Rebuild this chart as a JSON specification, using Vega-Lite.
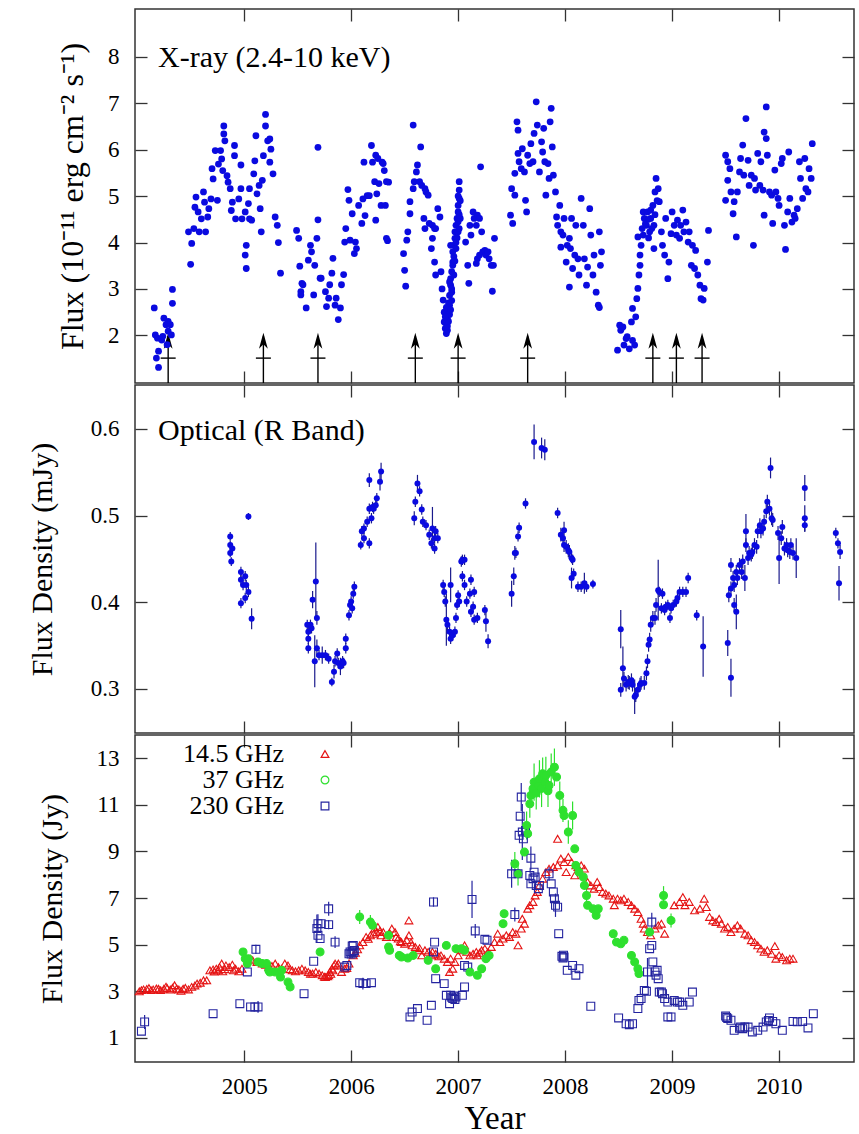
{
"$schema": "https://vega.github.io/schema/vega-lite/v6.json",
"background": "white",
"padding": {"left": 26, "top": 7, "right": 6, "bottom": 0},
"bounds": "flush",
"spacing": 2,
"config": {
 "view": {"stroke": "#333", "strokeWidth": 1.5},
 "axis": {"domain": false, "grid": false, "tickSize": -12, "tickColor": "#333", "tickWidth": 1.3, "labelFont": "Liberation Serif", "labelFontSize": 23, "labelColor": "black", "labelPadding": 28, "titleFont": "Liberation Serif", "titleFontSize": 30, "titleColor": "black", "titleFontWeight": "normal"}
},
"resolve": {
 "scale": {"shape": "independent", "stroke": "independent"},
 "legend": {"shape": "independent", "stroke": "independent"}
},
"datasets": {
"arrows": [{"t":2004.29},{"t":2005.18},{"t":2005.69},{"t":2006.6},{"t":2007.0},{"t":2007.65},{"t":2008.82},{"t":2009.04},{"t":2009.28}],
"xray": [
{"t":2004.16,"f":2.59},{"t":2004.17,"f":2.01},{"t":2004.19,"f":1.94},{"t":2004.2,"f":1.66},{"t":2004.18,"f":1.51},{"t":2004.2,"f":1.31},{"t":2004.23,"f":1.9},{"t":2004.24,"f":1.98},{"t":2004.25,"f":2.37},{"t":2004.27,"f":2.23},{"t":2004.28,"f":1.8},{"t":2004.29,"f":2.09},{"t":2004.29,"f":2.3},{"t":2004.31,"f":2.23},{"t":2004.32,"f":2.01},{"t":2004.33,"f":2.69},{"t":2004.33,"f":2.99},
{"t":2004.5,"f":3.53},{"t":2004.48,"f":4.23},{"t":2004.51,"f":3.98},{"t":2004.53,"f":4.3},{"t":2004.55,"f":4.98},{"t":2004.54,"f":4.76},{"t":2004.57,"f":4.66},{"t":2004.58,"f":4.23},{"t":2004.6,"f":4.51},{"t":2004.62,"f":5.09},{"t":2004.63,"f":4.87},{"t":2004.64,"f":4.23},{"t":2004.66,"f":4.55},{"t":2004.67,"f":4.73},{"t":2004.69,"f":4.94},{"t":2004.7,"f":5.59},{"t":2004.71,"f":5.37},{"t":2004.73,"f":5.98},{"t":2004.75,"f":4.91},{"t":2004.76,"f":5.69},{"t":2004.78,"f":5.98},{"t":2004.79,"f":5.8},{"t":2004.8,"f":5.55},{"t":2004.81,"f":6.51},{"t":2004.81,"f":6.34},{"t":2004.82,"f":6.19},{"t":2004.84,"f":5.44},{"t":2004.85,"f":5.3},{"t":2004.87,"f":5.16},{"t":2004.88,"f":4.69},{"t":2004.89,"f":4.87},{"t":2004.91,"f":5.87},{"t":2004.91,"f":6.09},{"t":2004.92,"f":4.51},{"t":2004.95,"f":4.94},{"t":2004.97,"f":5.16},{"t":2004.97,"f":5.67},{"t":2004.98,"f":4.51},
{"t":2005.01,"f":4.66},{"t":2005.01,"f":3.73},{"t":2005.02,"f":3.94},{"t":2005.02,"f":3.44},{"t":2005.04,"f":4.84},{"t":2005.05,"f":4.51},{"t":2005.05,"f":5.16},{"t":2005.07,"f":4.48},{"t":2005.09,"f":5.48},{"t":2005.1,"f":5.76},{"t":2005.11,"f":6.3},{"t":2005.12,"f":5.05},{"t":2005.14,"f":5.23},{"t":2005.15,"f":4.73},{"t":2005.16,"f":4.23},{"t":2005.17,"f":5.34},{"t":2005.18,"f":5.87},{"t":2005.2,"f":6.76},{"t":2005.2,"f":6.51},{"t":2005.22,"f":6.19},{"t":2005.24,"f":6.23},{"t":2005.25,"f":6.01},{"t":2005.24,"f":5.73},{"t":2005.27,"f":5.48},{"t":2005.29,"f":4.55},{"t":2005.31,"f":4.37},{"t":2005.32,"f":4.0},{"t":2005.34,"f":3.34},
{"t":2005.49,"f":4.26},{"t":2005.51,"f":4.09},{"t":2005.52,"f":3.49},{"t":2005.53,"f":2.94},{"t":2005.54,"f":3.12},{"t":2005.55,"f":3.09},{"t":2005.53,"f":2.87},{"t":2005.58,"f":2.59},{"t":2005.6,"f":3.62},{"t":2005.62,"f":3.94},{"t":2005.63,"f":3.8},{"t":2005.65,"f":2.87},{"t":2005.66,"f":3.51},{"t":2005.68,"f":4.09},{"t":2005.69,"f":4.49},{"t":2005.69,"f":6.05},{"t":2005.71,"f":3.23},{"t":2005.72,"f":3.23},{"t":2005.76,"f":2.94},{"t":2005.77,"f":2.62},{"t":2005.79,"f":2.8},{"t":2005.8,"f":3.09},{"t":2005.82,"f":3.34},{"t":2005.83,"f":3.66},{"t":2005.85,"f":2.65},{"t":2005.86,"f":2.8},{"t":2005.88,"f":2.34},{"t":2005.9,"f":2.59},{"t":2005.91,"f":3.09},{"t":2005.93,"f":3.31},{"t":2005.94,"f":4.01},{"t":2005.95,"f":4.3},{"t":2005.97,"f":5.14},{"t":2005.98,"f":4.91},{"t":2005.99,"f":4.05},
{"t":2006.01,"f":4.62},{"t":2006.03,"f":3.76},{"t":2006.04,"f":4.01},{"t":2006.05,"f":3.87},{"t":2006.07,"f":4.8},{"t":2006.1,"f":4.41},{"t":2006.11,"f":4.94},{"t":2006.12,"f":5.73},{"t":2006.15,"f":5.01},{"t":2006.19,"f":6.09},{"t":2006.13,"f":4.58},{"t":2006.17,"f":5.01},{"t":2006.2,"f":5.73},{"t":2006.23,"f":5.88},{"t":2006.24,"f":5.05},{"t":2006.26,"f":5.27},{"t":2006.28,"f":4.8},{"t":2006.29,"f":5.73},{"t":2006.31,"f":5.55},{"t":2006.32,"f":4.8},{"t":2006.34,"f":4.04},{"t":2006.35,"f":5.3},{"t":2006.22,"f":5.31},{"t":2006.25,"f":5.81},{"t":2006.3,"f":5.7},{"t":2006.33,"f":5.31},{"t":2006.23,"f":4.48},{"t":2006.33,"f":4.09},
{"t":2006.49,"f":3.76},{"t":2006.5,"f":3.4},{"t":2006.51,"f":3.06},{"t":2006.52,"f":4.05},{"t":2006.53,"f":4.23},{"t":2006.55,"f":4.62},{"t":2006.55,"f":4.88},{"t":2006.58,"f":5.16},{"t":2006.58,"f":6.53},{"t":2006.59,"f":5.31},{"t":2006.61,"f":5.52},{"t":2006.62,"f":5.67},{"t":2006.64,"f":5.31},{"t":2006.65,"f":6.06},{"t":2006.66,"f":5.23},{"t":2006.69,"f":5.16},{"t":2006.7,"f":5.09},{"t":2006.72,"f":5.02},{"t":2006.68,"f":4.52},{"t":2006.69,"f":4.3},{"t":2006.73,"f":4.41},{"t":2006.76,"f":4.37},{"t":2006.76,"f":4.09},{"t":2006.78,"f":4.3},{"t":2006.79,"f":4.3},{"t":2006.81,"f":4.73},{"t":2006.83,"f":4.55},{"t":2006.75,"f":3.87},{"t":2006.78,"f":3.58},{"t":2006.79,"f":3.3},{"t":2006.84,"f":3.37},
{"t":2006.85,"f":3.0},{"t":2006.86,"f":2.76},{"t":2006.87,"f":2.5},{"t":2006.87,"f":2.29},{"t":2006.88,"f":2.15},{"t":2006.89,"f":2.04},{"t":2006.9,"f":2.11},{"t":2006.9,"f":2.36},{"t":2006.91,"f":2.5},{"t":2006.92,"f":2.65},{"t":2006.92,"f":2.86},{"t":2006.93,"f":3.08},{"t":2006.93,"f":3.22},{"t":2006.94,"f":3.37},{"t":2006.95,"f":3.58},{"t":2006.95,"f":3.8},{"t":2006.96,"f":3.94},{"t":2006.97,"f":4.09},{"t":2006.97,"f":4.23},{"t":2006.98,"f":4.37},{"t":2006.99,"f":4.52},{"t":2007.0,"f":4.66},{"t":2007.0,"f":4.8},{"t":2007.01,"f":4.95},{"t":2007.01,"f":5.13},{"t":2007.01,"f":5.31},{"t":2006.93,"f":3.94},{"t":2006.95,"f":3.51},{"t":2006.92,"f":3.15},{"t":2006.98,"f":3.87},{"t":2007.0,"f":4.23},{"t":2007.02,"f":4.52},{"t":2006.94,"f":2.93},{"t":2006.9,"f":2.58},
{"t":2006.89,"f":2.25},{"t":2006.9,"f":2.2},{"t":2006.91,"f":2.3},{"t":2006.92,"f":2.45},{"t":2006.94,"f":3.0},{"t":2006.96,"f":3.7},{"t":2006.97,"f":3.6},{"t":2006.99,"f":4.1},{"t":2007.0,"f":4.45},{"t":2007.01,"f":4.6},{"t":2007.0,"f":5.0},{"t":2007.02,"f":4.9},{"t":2006.96,"f":3.3},{"t":2006.94,"f":2.75},{"t":2006.91,"f":2.7},{"t":2006.88,"f":2.4},{"t":2006.89,"f":2.6},{"t":2006.93,"f":2.55},{"t":2006.98,"f":4.0},{"t":2007.01,"f":4.3},
{"t":2007.07,"f":4.01},{"t":2007.09,"f":3.51},{"t":2007.1,"f":3.12},{"t":2007.11,"f":4.37},{"t":2007.12,"f":4.16},{"t":2007.14,"f":4.66},{"t":2007.15,"f":4.52},{"t":2007.17,"f":4.37},{"t":2007.18,"f":4.59},{"t":2007.2,"f":4.52},{"t":2007.21,"f":5.63},{"t":2007.22,"f":4.23},{"t":2007.18,"f":3.65},{"t":2007.17,"f":3.55},{"t":2007.2,"f":3.73},{"t":2007.23,"f":3.8},{"t":2007.25,"f":3.83},{"t":2007.26,"f":3.73},{"t":2007.28,"f":3.8},{"t":2007.29,"f":3.65},{"t":2007.31,"f":3.51},{"t":2007.34,"f":4.09},{"t":2007.33,"f":3.51},{"t":2007.32,"f":2.95},
{"t":2007.49,"f":4.59},{"t":2007.51,"f":4.41},{"t":2007.5,"f":5.16},{"t":2007.53,"f":5.02},{"t":2007.53,"f":5.49},{"t":2007.55,"f":6.6},{"t":2007.56,"f":6.42},{"t":2007.56,"f":5.92},{"t":2007.57,"f":5.74},{"t":2007.59,"f":5.59},{"t":2007.6,"f":6.02},{"t":2007.62,"f":5.52},{"t":2007.63,"f":4.91},{"t":2007.64,"f":4.66},{"t":2007.65,"f":5.88},{"t":2007.67,"f":5.7},{"t":2007.68,"f":6.13},{"t":2007.7,"f":5.74},{"t":2007.71,"f":6.35},{"t":2007.73,"f":7.03},{"t":2007.74,"f":6.53},{"t":2007.76,"f":5.52},{"t":2007.78,"f":6.17},{"t":2007.79,"f":5.95},{"t":2007.8,"f":6.46},{"t":2007.81,"f":5.74},{"t":2007.82,"f":5.02},{"t":2007.84,"f":5.7},{"t":2007.85,"f":5.38},{"t":2007.86,"f":6.6},{"t":2007.87,"f":6.89},{"t":2007.88,"f":6.06},{"t":2007.89,"f":5.45},{"t":2007.91,"f":5.09},{"t":2007.92,"f":4.55},{"t":2007.93,"f":4.37},{"t":2007.95,"f":4.8},{"t":2007.96,"f":4.23},{"t":2007.96,"f":3.9},{"t":2007.98,"f":4.16},{"t":2007.99,"f":4.52},
{"t":2008.01,"f":3.58},{"t":2008.02,"f":3.94},{"t":2008.04,"f":4.09},{"t":2008.05,"f":3.87},{"t":2008.06,"f":4.52},{"t":2008.07,"f":3.44},{"t":2008.09,"f":3.73},{"t":2008.1,"f":4.37},{"t":2008.12,"f":3.65},{"t":2008.13,"f":3.3},{"t":2008.15,"f":4.95},{"t":2008.17,"f":4.37},{"t":2008.18,"f":3.65},{"t":2008.2,"f":3.08},{"t":2008.21,"f":3.47},{"t":2008.23,"f":4.73},{"t":2008.24,"f":4.16},{"t":2008.26,"f":3.3},{"t":2008.27,"f":3.73},{"t":2008.29,"f":2.93},{"t":2008.31,"f":2.65},{"t":2008.32,"f":4.23},{"t":2008.33,"f":3.51},{"t":2008.34,"f":3.8},{"t":2008.04,"f":3.04},{"t":2008.32,"f":2.6},
{"t":2008.49,"f":1.68},{"t":2008.51,"f":2.22},{"t":2008.52,"f":2.11},{"t":2008.54,"f":2.18},{"t":2008.55,"f":1.79},{"t":2008.57,"f":1.93},{"t":2008.58,"f":1.97},{"t":2008.6,"f":1.71},{"t":2008.62,"f":2.29},{"t":2008.63,"f":2.58},{"t":2008.63,"f":1.89},{"t":2008.65,"f":1.79},{"t":2008.66,"f":2.4},{"t":2008.67,"f":2.79},{"t":2008.68,"f":3.01},{"t":2008.69,"f":3.3},{"t":2008.7,"f":3.51},{"t":2008.7,"f":3.73},{"t":2008.71,"f":3.94},{"t":2008.68,"f":4.12},{"t":2008.73,"f":4.16},{"t":2008.73,"f":4.66},{"t":2008.74,"f":4.52},{"t":2008.76,"f":4.37},{"t":2008.77,"f":4.66},{"t":2008.79,"f":4.23},{"t":2008.8,"f":4.52},{"t":2008.82,"f":4.8},{"t":2008.83,"f":4.37},{"t":2008.84,"f":5.09},{"t":2008.85,"f":5.38},{"t":2008.87,"f":5.16},{"t":2008.88,"f":4.88},{"t":2008.83,"f":3.87},{"t":2008.9,"f":4.23},{"t":2008.91,"f":3.94},{"t":2008.93,"f":3.73},{"t":2008.94,"f":4.52},{"t":2008.96,"f":3.22},{"t":2008.97,"f":3.58},{"t":2008.99,"f":4.19},
{"t":2008.75,"f":4.4},{"t":2008.78,"f":4.5},{"t":2008.81,"f":4.3},{"t":2008.8,"f":4.7},{"t":2008.84,"f":4.6},{"t":2008.86,"f":4.9},{"t":2008.72,"f":4.3},{"t":2008.78,"f":4.1},
{"t":2009.0,"f":4.66},{"t":2009.02,"f":4.37},{"t":2009.04,"f":4.16},{"t":2009.05,"f":4.48},{"t":2009.07,"f":4.09},{"t":2009.08,"f":4.37},{"t":2009.1,"f":4.7},{"t":2009.11,"f":4.23},{"t":2009.13,"f":4.44},{"t":2009.15,"f":4.01},{"t":2009.16,"f":4.23},{"t":2009.18,"f":3.51},{"t":2009.19,"f":3.94},{"t":2009.21,"f":3.44},{"t":2009.22,"f":3.83},{"t":2009.24,"f":3.3},{"t":2009.26,"f":3.08},{"t":2009.27,"f":2.79},{"t":2009.29,"f":2.76},{"t":2009.3,"f":3.01},{"t":2009.33,"f":3.58},{"t":2009.34,"f":4.26},
{"t":2009.5,"f":5.88},{"t":2009.5,"f":4.91},{"t":2009.52,"f":5.74},{"t":2009.52,"f":5.34},{"t":2009.54,"f":5.59},{"t":2009.55,"f":5.09},{"t":2009.57,"f":4.62},{"t":2009.58,"f":4.88},{"t":2009.6,"f":4.12},{"t":2009.61,"f":5.09},{"t":2009.63,"f":5.52},{"t":2009.64,"f":5.81},{"t":2009.66,"f":6.1},{"t":2009.67,"f":5.45},{"t":2009.69,"f":6.67},{"t":2009.71,"f":5.77},{"t":2009.72,"f":5.23},{"t":2009.74,"f":5.45},{"t":2009.76,"f":3.94},{"t":2009.77,"f":5.38},{"t":2009.78,"f":5.13},{"t":2009.8,"f":5.92},{"t":2009.82,"f":5.23},{"t":2009.83,"f":5.74},{"t":2009.85,"f":5.13},{"t":2009.86,"f":4.59},{"t":2009.86,"f":6.38},{"t":2009.88,"f":6.24},{"t":2009.88,"f":6.92},{"t":2009.89,"f":5.88},{"t":2009.91,"f":5.09},{"t":2009.93,"f":5.02},{"t":2009.94,"f":4.41},{"t":2009.96,"f":5.56},{"t":2009.97,"f":5.09},{"t":2009.99,"f":4.95},
{"t":2010.0,"f":4.8},{"t":2010.02,"f":5.7},{"t":2010.03,"f":5.81},{"t":2010.05,"f":4.37},{"t":2010.06,"f":3.85},{"t":2010.08,"f":4.66},{"t":2010.09,"f":5.95},{"t":2010.1,"f":4.95},{"t":2010.12,"f":4.44},{"t":2010.14,"f":4.59},{"t":2010.15,"f":4.52},{"t":2010.17,"f":4.73},{"t":2010.19,"f":5.74},{"t":2010.2,"f":5.38},{"t":2010.22,"f":4.95},{"t":2010.24,"f":5.81},{"t":2010.25,"f":5.16},{"t":2010.27,"f":5.09},{"t":2010.28,"f":5.59},{"t":2010.3,"f":5.38},{"t":2010.31,"f":6.13}
],
"opt": [
{"t":2004.87,"f":0.476,"e":0.005},{"t":2004.87,"f":0.466,"e":0.005},{"t":2004.87,"f":0.457,"e":0.005},{"t":2004.88,"f":0.447,"e":0.005},{"t":2004.89,"f":0.462,"e":0.005},{"t":2004.97,"f":0.435,"e":0.006},{"t":2004.97,"f":0.426,"e":0.006},{"t":2004.99,"f":0.42,"e":0.006},{"t":2005.01,"f":0.43,"e":0.006},{"t":2005.02,"f":0.42,"e":0.006},{"t":2005.04,"f":0.412,"e":0.006},{"t":2004.97,"f":0.399,"e":0.006},{"t":2005.01,"f":0.405,"e":0.006},{"t":2005.04,"f":0.499,"e":0.004},{"t":2005.07,"f":0.381,"e":0.012},
{"t":2005.59,"f":0.374,"e":0.006},{"t":2005.6,"f":0.358,"e":0.006},{"t":2005.6,"f":0.366,"e":0.006},{"t":2005.6,"f":0.347,"e":0.006},{"t":2005.62,"f":0.374,"e":0.006},{"t":2005.63,"f":0.37,"e":0.006},{"t":2005.64,"f":0.403,"e":0.01},{"t":2005.66,"f":0.332,"e":0.03},{"t":2005.67,"f":0.424,"e":0.045},{"t":2005.68,"f":0.347,"e":0.01},{"t":2005.68,"f":0.382,"e":0.008},{"t":2005.7,"f":0.339,"e":0.006},{"t":2005.73,"f":0.339,"e":0.01},{"t":2005.76,"f":0.339,"e":0.006},{"t":2005.79,"f":0.335,"e":0.006},{"t":2005.82,"f":0.308,"e":0.005},{"t":2005.84,"f":0.32,"e":0.008},{"t":2005.85,"f":0.332,"e":0.006},{"t":2005.87,"f":0.341,"e":0.006},{"t":2005.88,"f":0.33,"e":0.006},{"t":2005.9,"f":0.326,"e":0.01},{"t":2005.92,"f":0.332,"e":0.006},{"t":2005.93,"f":0.33,"e":0.006},{"t":2005.95,"f":0.347,"e":0.006},{"t":2005.95,"f":0.358,"e":0.006},{"t":2005.98,"f":0.385,"e":0.006},{"t":2005.99,"f":0.397,"e":0.006},{"t":2006.0,"f":0.401,"e":0.006},{"t":2006.01,"f":0.393,"e":0.006},{"t":2006.02,"f":0.41,"e":0.006},{"t":2006.03,"f":0.418,"e":0.006},
{"t":2006.09,"f":0.466,"e":0.005},{"t":2006.1,"f":0.482,"e":0.006},{"t":2006.12,"f":0.485,"e":0.006},{"t":2006.12,"f":0.474,"e":0.006},{"t":2006.15,"f":0.493,"e":0.006},{"t":2006.17,"f":0.468,"e":0.006},{"t":2006.17,"f":0.508,"e":0.006},{"t":2006.17,"f":0.541,"e":0.008},{"t":2006.19,"f":0.497,"e":0.006},{"t":2006.2,"f":0.51,"e":0.006},{"t":2006.21,"f":0.508,"e":0.006},{"t":2006.23,"f":0.512,"e":0.006},{"t":2006.24,"f":0.52,"e":0.006},{"t":2006.27,"f":0.539,"e":0.01},{"t":2006.28,"f":0.551,"e":0.01},
{"t":2006.59,"f":0.497,"e":0.008},{"t":2006.6,"f":0.516,"e":0.006},{"t":2006.62,"f":0.537,"e":0.01},{"t":2006.64,"f":0.528,"e":0.006},{"t":2006.66,"f":0.507,"e":0.006},{"t":2006.67,"f":0.493,"e":0.006},{"t":2006.7,"f":0.489,"e":0.006},{"t":2006.73,"f":0.478,"e":0.006},{"t":2006.75,"f":0.468,"e":0.006},{"t":2006.76,"f":0.485,"e":0.025},{"t":2006.78,"f":0.474,"e":0.006},{"t":2006.79,"f":0.482,"e":0.006},{"t":2006.81,"f":0.474,"e":0.006},{"t":2006.78,"f":0.462,"e":0.006},
{"t":2006.86,"f":0.42,"e":0.006},{"t":2006.87,"f":0.412,"e":0.006},{"t":2006.88,"f":0.401,"e":0.006},{"t":2006.89,"f":0.38,"e":0.03},{"t":2006.9,"f":0.374,"e":0.006},{"t":2006.92,"f":0.366,"e":0.006},{"t":2006.93,"f":0.358,"e":0.006},{"t":2006.95,"f":0.362,"e":0.006},{"t":2006.97,"f":0.366,"e":0.006},{"t":2006.98,"f":0.382,"e":0.006},{"t":2006.93,"f":0.42,"e":0.02},{"t":2007.0,"f":0.408,"e":0.006},{"t":2007.01,"f":0.401,"e":0.006},{"t":2007.03,"f":0.447,"e":0.006},{"t":2007.04,"f":0.449,"e":0.006},{"t":2007.06,"f":0.449,"e":0.006},{"t":2007.04,"f":0.43,"e":0.006},{"t":2007.06,"f":0.42,"e":0.006},{"t":2007.11,"f":0.41,"e":0.006},{"t":2007.12,"f":0.426,"e":0.006},{"t":2007.14,"f":0.395,"e":0.006},{"t":2007.15,"f":0.412,"e":0.006},{"t":2007.12,"f":0.389,"e":0.006},{"t":2007.15,"f":0.38,"e":0.006},{"t":2007.18,"f":0.382,"e":0.006},{"t":2007.25,"f":0.391,"e":0.006},{"t":2007.26,"f":0.378,"e":0.012},{"t":2007.28,"f":0.355,"e":0.008},{"t":2007.08,"f":0.401,"e":0.006},{"t":2006.99,"f":0.397,"e":0.006},
{"t":2007.5,"f":0.41,"e":0.015},{"t":2007.52,"f":0.43,"e":0.01},{"t":2007.53,"f":0.457,"e":0.008},{"t":2007.54,"f":0.457,"e":0.006},{"t":2007.56,"f":0.476,"e":0.006},{"t":2007.57,"f":0.486,"e":0.006},{"t":2007.63,"f":0.514,"e":0.006},{"t":2007.71,"f":0.585,"e":0.02},{"t":2007.78,"f":0.578,"e":0.012},{"t":2007.81,"f":0.576,"e":0.012},
{"t":2007.93,"f":0.503,"e":0.006},{"t":2007.96,"f":0.478,"e":0.008},{"t":2007.98,"f":0.474,"e":0.01},{"t":2007.99,"f":0.483,"e":0.01},{"t":2007.99,"f":0.466,"e":0.008},{"t":2008.01,"f":0.464,"e":0.008},{"t":2008.03,"f":0.46,"e":0.008},{"t":2008.04,"f":0.458,"e":0.008},{"t":2008.06,"f":0.451,"e":0.006},{"t":2008.07,"f":0.449,"e":0.006},{"t":2008.06,"f":0.428,"e":0.012},{"t":2008.08,"f":0.433,"e":0.006},{"t":2008.12,"f":0.418,"e":0.006},{"t":2008.15,"f":0.418,"e":0.006},{"t":2008.18,"f":0.422,"e":0.012},{"t":2008.2,"f":0.418,"e":0.006},{"t":2008.26,"f":0.421,"e":0.005},
{"t":2008.52,"f":0.369,"e":0.022},{"t":2008.52,"f":0.299,"e":0.008},{"t":2008.54,"f":0.324,"e":0.025},{"t":2008.55,"f":0.312,"e":0.008},{"t":2008.57,"f":0.305,"e":0.008},{"t":2008.59,"f":0.308,"e":0.008},{"t":2008.6,"f":0.307,"e":0.008},{"t":2008.62,"f":0.31,"e":0.008},{"t":2008.63,"f":0.305,"e":0.008},{"t":2008.65,"f":0.291,"e":0.02},{"t":2008.66,"f":0.293,"e":0.008},{"t":2008.68,"f":0.299,"e":0.008},{"t":2008.7,"f":0.305,"e":0.008},{"t":2008.71,"f":0.307,"e":0.008},{"t":2008.74,"f":0.307,"e":0.008},{"t":2008.76,"f":0.318,"e":0.008},{"t":2008.77,"f":0.332,"e":0.008},{"t":2008.78,"f":0.351,"e":0.008},{"t":2008.79,"f":0.357,"e":0.008},{"t":2008.8,"f":0.374,"e":0.008},{"t":2008.82,"f":0.382,"e":0.008},{"t":2008.84,"f":0.382,"e":0.008},{"t":2008.85,"f":0.397,"e":0.008},{"t":2008.87,"f":0.414,"e":0.035},{"t":2008.88,"f":0.412,"e":0.006},{"t":2008.9,"f":0.393,"e":0.006},{"t":2008.91,"f":0.41,"e":0.006},{"t":2008.93,"f":0.391,"e":0.006},{"t":2008.94,"f":0.395,"e":0.006},{"t":2008.96,"f":0.397,"e":0.006},{"t":2008.98,"f":0.382,"e":0.006},{"t":2008.99,"f":0.393,"e":0.006},{"t":2009.01,"f":0.397,"e":0.006},{"t":2009.04,"f":0.401,"e":0.006},{"t":2009.05,"f":0.405,"e":0.006},{"t":2009.07,"f":0.412,"e":0.006},{"t":2009.1,"f":0.412,"e":0.006},{"t":2009.13,"f":0.412,"e":0.006},{"t":2009.15,"f":0.428,"e":0.006},{"t":2009.23,"f":0.385,"e":0.006},{"t":2009.29,"f":0.349,"e":0.035},
{"t":2009.52,"f":0.353,"e":0.015},{"t":2009.53,"f":0.408,"e":0.008},{"t":2009.55,"f":0.313,"e":0.022},{"t":2009.55,"f":0.416,"e":0.008},{"t":2009.55,"f":0.443,"e":0.008},{"t":2009.57,"f":0.428,"e":0.008},{"t":2009.58,"f":0.42,"e":0.008},{"t":2009.58,"f":0.397,"e":0.008},{"t":2009.6,"f":0.389,"e":0.02},{"t":2009.6,"f":0.435,"e":0.008},{"t":2009.61,"f":0.428,"e":0.008},{"t":2009.63,"f":0.443,"e":0.008},{"t":2009.65,"f":0.435,"e":0.008},{"t":2009.66,"f":0.447,"e":0.008},{"t":2009.68,"f":0.428,"e":0.015},{"t":2009.69,"f":0.482,"e":0.02},{"t":2009.69,"f":0.466,"e":0.008},{"t":2009.71,"f":0.451,"e":0.008},{"t":2009.72,"f":0.457,"e":0.008},{"t":2009.74,"f":0.455,"e":0.008},{"t":2009.75,"f":0.458,"e":0.008},{"t":2009.77,"f":0.466,"e":0.008},{"t":2009.79,"f":0.464,"e":0.008},{"t":2009.8,"f":0.482,"e":0.008},{"t":2009.82,"f":0.489,"e":0.008},{"t":2009.83,"f":0.482,"e":0.008},{"t":2009.85,"f":0.485,"e":0.008},{"t":2009.86,"f":0.493,"e":0.008},{"t":2009.88,"f":0.505,"e":0.008},{"t":2009.89,"f":0.516,"e":0.008},{"t":2009.91,"f":0.508,"e":0.008},{"t":2009.92,"f":0.555,"e":0.012},{"t":2009.93,"f":0.497,"e":0.008},{"t":2009.94,"f":0.495,"e":0.008},{"t":2009.99,"f":0.48,"e":0.008},{"t":2010.0,"f":0.451,"e":0.03},{"t":2010.02,"f":0.474,"e":0.008},{"t":2010.03,"f":0.487,"e":0.008},{"t":2010.05,"f":0.462,"e":0.008},{"t":2010.07,"f":0.466,"e":0.008},{"t":2010.08,"f":0.46,"e":0.008},{"t":2010.1,"f":0.458,"e":0.008},{"t":2010.11,"f":0.466,"e":0.008},{"t":2010.13,"f":0.457,"e":0.008},{"t":2010.16,"f":0.451,"e":0.023},{"t":2010.24,"f":0.532,"e":0.015},{"t":2010.24,"f":0.497,"e":0.015},{"t":2010.24,"f":0.489,"e":0.008},{"t":2010.53,"f":0.48,"e":0.006},{"t":2010.55,"f":0.468,"e":0.006},{"t":2010.57,"f":0.458,"e":0.008},{"t":2010.56,"f":0.422,"e":0.02}
],
"radio": [
{"t":2004.02,"f":3.0,"b":"14.5 GHz"},{"t":2004.04,"f":3.05,"b":"14.5 GHz"},{"t":2004.06,"f":3.08,"b":"14.5 GHz"},{"t":2004.09,"f":3.1,"b":"14.5 GHz"},{"t":2004.11,"f":3.14,"b":"14.5 GHz"},{"t":2004.13,"f":3.05,"b":"14.5 GHz"},{"t":2004.15,"f":3.08,"b":"14.5 GHz"},{"t":2004.18,"f":3.12,"b":"14.5 GHz"},{"t":2004.2,"f":3.11,"b":"14.5 GHz"},{"t":2004.22,"f":3.05,"b":"14.5 GHz"},{"t":2004.25,"f":3.11,"b":"14.5 GHz"},{"t":2004.27,"f":3.2,"b":"14.5 GHz"},{"t":2004.28,"f":3.14,"b":"14.5 GHz"},{"t":2004.31,"f":3.08,"b":"14.5 GHz"},{"t":2004.33,"f":3.15,"b":"14.5 GHz"},{"t":2004.35,"f":3.26,"b":"14.5 GHz"},{"t":2004.37,"f":3.12,"b":"14.5 GHz"},{"t":2004.39,"f":3.08,"b":"14.5 GHz"},{"t":2004.41,"f":3.02,"b":"14.5 GHz"},{"t":2004.43,"f":3.11,"b":"14.5 GHz"},{"t":2004.45,"f":3.15,"b":"14.5 GHz"},{"t":2004.48,"f":3.08,"b":"14.5 GHz"},{"t":2004.51,"f":3.19,"b":"14.5 GHz"},{"t":2004.54,"f":3.25,"b":"14.5 GHz"},{"t":2004.56,"f":3.33,"b":"14.5 GHz"},{"t":2004.59,"f":3.37,"b":"14.5 GHz"},{"t":2004.62,"f":3.47,"b":"14.5 GHz"},{"t":2004.65,"f":3.47,"b":"14.5 GHz"},{"t":2004.68,"f":3.9,"b":"14.5 GHz"},{"t":2004.71,"f":3.94,"b":"14.5 GHz"},{"t":2004.72,"f":3.85,"b":"14.5 GHz"},{"t":2004.74,"f":3.97,"b":"14.5 GHz"},{"t":2004.76,"f":3.9,"b":"14.5 GHz"},{"t":2004.77,"f":4.04,"b":"14.5 GHz"},{"t":2004.79,"f":4.19,"b":"14.5 GHz"},{"t":2004.8,"f":3.86,"b":"14.5 GHz"},{"t":2004.82,"f":3.95,"b":"14.5 GHz"},{"t":2004.83,"f":4.11,"b":"14.5 GHz"},{"t":2004.86,"f":4.04,"b":"14.5 GHz"},{"t":2004.89,"f":4.14,"b":"14.5 GHz"},{"t":2004.9,"f":3.9,"b":"14.5 GHz"},{"t":2004.92,"f":3.97,"b":"14.5 GHz"},{"t":2004.95,"f":3.86,"b":"14.5 GHz"},{"t":2004.98,"f":3.97,"b":"14.5 GHz"},
{"t":2005.06,"f":4.4,"b":"14.5 GHz"},{"t":2005.08,"f":4.33,"b":"14.5 GHz"},{"t":2005.12,"f":4.26,"b":"14.5 GHz"},{"t":2005.17,"f":4.19,"b":"14.5 GHz"},{"t":2005.2,"f":4.14,"b":"14.5 GHz"},{"t":2005.23,"f":4.05,"b":"14.5 GHz"},{"t":2005.26,"f":4.09,"b":"14.5 GHz"},{"t":2005.29,"f":4.19,"b":"14.5 GHz"},{"t":2005.32,"f":4.04,"b":"14.5 GHz"},{"t":2005.35,"f":3.97,"b":"14.5 GHz"},{"t":2005.38,"f":4.19,"b":"14.5 GHz"},{"t":2005.41,"f":4.11,"b":"14.5 GHz"},{"t":2005.43,"f":3.95,"b":"14.5 GHz"},{"t":2005.45,"f":3.9,"b":"14.5 GHz"},{"t":2005.48,"f":3.86,"b":"14.5 GHz"},{"t":2005.51,"f":3.9,"b":"14.5 GHz"},{"t":2005.54,"f":3.97,"b":"14.5 GHz"},{"t":2005.57,"f":3.9,"b":"14.5 GHz"},{"t":2005.6,"f":3.83,"b":"14.5 GHz"},{"t":2005.62,"f":3.75,"b":"14.5 GHz"},{"t":2005.64,"f":3.76,"b":"14.5 GHz"},{"t":2005.67,"f":3.83,"b":"14.5 GHz"},{"t":2005.7,"f":3.76,"b":"14.5 GHz"},{"t":2005.73,"f":3.69,"b":"14.5 GHz"},{"t":2005.75,"f":3.62,"b":"14.5 GHz"},{"t":2005.76,"f":3.61,"b":"14.5 GHz"},{"t":2005.78,"f":3.65,"b":"14.5 GHz"},{"t":2005.79,"f":3.69,"b":"14.5 GHz"},{"t":2005.8,"f":3.83,"b":"14.5 GHz"},{"t":2005.81,"f":3.75,"b":"14.5 GHz"},{"t":2005.82,"f":3.97,"b":"14.5 GHz"},{"t":2005.83,"f":3.9,"b":"14.5 GHz"},{"t":2005.84,"f":4.11,"b":"14.5 GHz"},{"t":2005.85,"f":4.19,"b":"14.5 GHz"},{"t":2005.87,"f":4.11,"b":"14.5 GHz"},{"t":2005.88,"f":4.19,"b":"14.5 GHz"},{"t":2005.91,"f":3.83,"b":"14.5 GHz"},{"t":2005.94,"f":3.97,"b":"14.5 GHz"},{"t":2005.96,"f":4.0,"b":"14.5 GHz"},{"t":2005.98,"f":4.19,"b":"14.5 GHz"},
{"t":2006.02,"f":4.54,"b":"14.5 GHz"},{"t":2006.04,"f":4.65,"b":"14.5 GHz"},{"t":2006.06,"f":4.8,"b":"14.5 GHz"},{"t":2006.08,"f":4.97,"b":"14.5 GHz"},{"t":2006.11,"f":5.11,"b":"14.5 GHz"},{"t":2006.14,"f":5.33,"b":"14.5 GHz"},{"t":2006.16,"f":5.25,"b":"14.5 GHz"},{"t":2006.18,"f":5.4,"b":"14.5 GHz"},{"t":2006.21,"f":5.47,"b":"14.5 GHz"},{"t":2006.22,"f":5.69,"b":"14.5 GHz"},{"t":2006.24,"f":5.54,"b":"14.5 GHz"},{"t":2006.25,"f":5.76,"b":"14.5 GHz"},{"t":2006.27,"f":5.6,"b":"14.5 GHz"},{"t":2006.28,"f":5.4,"b":"14.5 GHz"},{"t":2006.3,"f":5.54,"b":"14.5 GHz"},{"t":2006.33,"f":5.33,"b":"14.5 GHz"},{"t":2006.36,"f":5.5,"b":"14.5 GHz"},{"t":2006.38,"f":5.69,"b":"14.5 GHz"},{"t":2006.41,"f":5.54,"b":"14.5 GHz"},{"t":2006.42,"f":5.33,"b":"14.5 GHz"},{"t":2006.44,"f":5.26,"b":"14.5 GHz"},{"t":2006.46,"f":5.15,"b":"14.5 GHz"},{"t":2006.47,"f":5.11,"b":"14.5 GHz"},{"t":2006.5,"f":5.04,"b":"14.5 GHz"},{"t":2006.52,"f":5.2,"b":"14.5 GHz"},{"t":2006.54,"f":6.04,"b":"14.5 GHz"},{"t":2006.54,"f":5.4,"b":"14.5 GHz"},{"t":2006.56,"f":5.1,"b":"14.5 GHz"},{"t":2006.57,"f":4.97,"b":"14.5 GHz"},{"t":2006.6,"f":4.9,"b":"14.5 GHz"},{"t":2006.63,"f":4.76,"b":"14.5 GHz"},{"t":2006.64,"f":4.85,"b":"14.5 GHz"},{"t":2006.66,"f":4.54,"b":"14.5 GHz"},{"t":2006.69,"f":4.76,"b":"14.5 GHz"},{"t":2006.72,"f":4.69,"b":"14.5 GHz"},{"t":2006.75,"f":4.54,"b":"14.5 GHz"},{"t":2006.76,"f":4.69,"b":"14.5 GHz"},{"t":2006.79,"f":4.61,"b":"14.5 GHz"},{"t":2006.82,"f":4.5,"b":"14.5 GHz"},{"t":2006.84,"f":4.54,"b":"14.5 GHz"},{"t":2006.87,"f":4.4,"b":"14.5 GHz"},{"t":2006.9,"f":4.26,"b":"14.5 GHz"},{"t":2006.92,"f":3.83,"b":"14.5 GHz"},{"t":2006.93,"f":4.4,"b":"14.5 GHz"},{"t":2006.95,"f":3.97,"b":"14.5 GHz"},{"t":2006.97,"f":4.26,"b":"14.5 GHz"},
{"t":2007.0,"f":4.54,"b":"14.5 GHz"},{"t":2007.03,"f":4.76,"b":"14.5 GHz"},{"t":2007.06,"f":4.97,"b":"14.5 GHz"},{"t":2007.08,"f":4.69,"b":"14.5 GHz"},{"t":2007.11,"f":4.54,"b":"14.5 GHz"},{"t":2007.14,"f":4.61,"b":"14.5 GHz"},{"t":2007.17,"f":4.69,"b":"14.5 GHz"},{"t":2007.18,"f":4.54,"b":"14.5 GHz"},{"t":2007.2,"f":4.65,"b":"14.5 GHz"},{"t":2007.22,"f":4.76,"b":"14.5 GHz"},{"t":2007.25,"f":4.83,"b":"14.5 GHz"},{"t":2007.28,"f":4.69,"b":"14.5 GHz"},{"t":2007.31,"f":4.9,"b":"14.5 GHz"},{"t":2007.34,"f":5.11,"b":"14.5 GHz"},{"t":2007.37,"f":5.47,"b":"14.5 GHz"},{"t":2007.39,"f":5.11,"b":"14.5 GHz"},{"t":2007.42,"f":5.26,"b":"14.5 GHz"},{"t":2007.45,"f":5.4,"b":"14.5 GHz"},{"t":2007.48,"f":5.33,"b":"14.5 GHz"},{"t":2007.51,"f":5.54,"b":"14.5 GHz"},{"t":2007.54,"f":5.47,"b":"14.5 GHz"},{"t":2007.56,"f":4.97,"b":"14.5 GHz"},{"t":2007.59,"f":5.69,"b":"14.5 GHz"},{"t":2007.6,"f":6.11,"b":"14.5 GHz"},{"t":2007.62,"f":5.9,"b":"14.5 GHz"},{"t":2007.65,"f":6.54,"b":"14.5 GHz"},{"t":2007.67,"f":6.69,"b":"14.5 GHz"},{"t":2007.7,"f":6.83,"b":"14.5 GHz"},{"t":2007.72,"f":7.11,"b":"14.5 GHz"},{"t":2007.74,"f":7.26,"b":"14.5 GHz"},{"t":2007.76,"f":7.54,"b":"14.5 GHz"},{"t":2007.79,"f":7.83,"b":"14.5 GHz"},{"t":2007.82,"f":8.11,"b":"14.5 GHz"},{"t":2007.85,"f":8.26,"b":"14.5 GHz"},{"t":2007.89,"f":8.33,"b":"14.5 GHz"},{"t":2007.93,"f":9.54,"b":"14.5 GHz"},{"t":2007.93,"f":8.4,"b":"14.5 GHz"},{"t":2007.96,"f":8.69,"b":"14.5 GHz"},{"t":2007.99,"f":8.54,"b":"14.5 GHz"},
{"t":2008.01,"f":8.11,"b":"14.5 GHz"},{"t":2008.03,"f":8.76,"b":"14.5 GHz"},{"t":2008.06,"f":8.54,"b":"14.5 GHz"},{"t":2008.09,"f":7.97,"b":"14.5 GHz"},{"t":2008.1,"f":8.4,"b":"14.5 GHz"},{"t":2008.12,"f":8.33,"b":"14.5 GHz"},{"t":2008.15,"f":8.4,"b":"14.5 GHz"},{"t":2008.18,"f":8.26,"b":"14.5 GHz"},{"t":2008.21,"f":7.69,"b":"14.5 GHz"},{"t":2008.24,"f":7.54,"b":"14.5 GHz"},{"t":2008.27,"f":7.4,"b":"14.5 GHz"},{"t":2008.3,"f":7.69,"b":"14.5 GHz"},{"t":2008.32,"f":7.47,"b":"14.5 GHz"},{"t":2008.35,"f":7.26,"b":"14.5 GHz"},{"t":2008.38,"f":7.19,"b":"14.5 GHz"},{"t":2008.41,"f":7.11,"b":"14.5 GHz"},{"t":2008.45,"f":6.97,"b":"14.5 GHz"},{"t":2008.46,"f":6.69,"b":"14.5 GHz"},{"t":2008.49,"f":6.97,"b":"14.5 GHz"},{"t":2008.52,"f":6.9,"b":"14.5 GHz"},{"t":2008.55,"f":6.97,"b":"14.5 GHz"},{"t":2008.59,"f":6.83,"b":"14.5 GHz"},{"t":2008.62,"f":6.69,"b":"14.5 GHz"},{"t":2008.65,"f":6.54,"b":"14.5 GHz"},{"t":2008.68,"f":6.4,"b":"14.5 GHz"},{"t":2008.71,"f":6.11,"b":"14.5 GHz"},{"t":2008.73,"f":5.9,"b":"14.5 GHz"},{"t":2008.74,"f":5.69,"b":"14.5 GHz"},{"t":2008.77,"f":5.54,"b":"14.5 GHz"},{"t":2008.8,"f":5.4,"b":"14.5 GHz"},{"t":2008.84,"f":5.69,"b":"14.5 GHz"},{"t":2008.87,"f":5.83,"b":"14.5 GHz"},{"t":2008.9,"f":5.9,"b":"14.5 GHz"},{"t":2008.93,"f":5.47,"b":"14.5 GHz"},
{"t":2009.02,"f":6.69,"b":"14.5 GHz"},{"t":2009.07,"f":6.83,"b":"14.5 GHz"},{"t":2009.1,"f":7.04,"b":"14.5 GHz"},{"t":2009.12,"f":6.69,"b":"14.5 GHz"},{"t":2009.16,"f":6.83,"b":"14.5 GHz"},{"t":2009.21,"f":6.47,"b":"14.5 GHz"},{"t":2009.26,"f":6.54,"b":"14.5 GHz"},{"t":2009.3,"f":6.97,"b":"14.5 GHz"},{"t":2009.32,"f":6.61,"b":"14.5 GHz"},{"t":2009.35,"f":6.19,"b":"14.5 GHz"},{"t":2009.38,"f":6.04,"b":"14.5 GHz"},{"t":2009.41,"f":5.97,"b":"14.5 GHz"},{"t":2009.44,"f":6.11,"b":"14.5 GHz"},{"t":2009.46,"f":5.9,"b":"14.5 GHz"},{"t":2009.49,"f":5.69,"b":"14.5 GHz"},{"t":2009.52,"f":5.76,"b":"14.5 GHz"},{"t":2009.55,"f":5.54,"b":"14.5 GHz"},{"t":2009.58,"f":5.69,"b":"14.5 GHz"},{"t":2009.61,"f":5.83,"b":"14.5 GHz"},{"t":2009.64,"f":5.69,"b":"14.5 GHz"},{"t":2009.68,"f":5.47,"b":"14.5 GHz"},{"t":2009.71,"f":5.4,"b":"14.5 GHz"},{"t":2009.74,"f":5.19,"b":"14.5 GHz"},{"t":2009.77,"f":5.11,"b":"14.5 GHz"},{"t":2009.8,"f":4.97,"b":"14.5 GHz"},{"t":2009.83,"f":4.83,"b":"14.5 GHz"},{"t":2009.86,"f":4.69,"b":"14.5 GHz"},{"t":2009.89,"f":4.76,"b":"14.5 GHz"},{"t":2009.93,"f":4.61,"b":"14.5 GHz"},{"t":2009.96,"f":4.94,"b":"14.5 GHz"},{"t":2009.97,"f":4.4,"b":"14.5 GHz"},{"t":2010.0,"f":4.54,"b":"14.5 GHz"},{"t":2010.03,"f":4.47,"b":"14.5 GHz"},{"t":2010.07,"f":4.33,"b":"14.5 GHz"},{"t":2010.1,"f":4.4,"b":"14.5 GHz"},{"t":2010.13,"f":4.4,"b":"14.5 GHz"},
{"t":2004.99,"f":4.69,"b":"37 GHz"},{"t":2005.01,"f":4.4,"b":"37 GHz"},{"t":2005.03,"f":4.19,"b":"37 GHz"},{"t":2005.04,"f":4.4,"b":"37 GHz"},{"t":2005.13,"f":4.26,"b":"37 GHz"},{"t":2005.17,"f":4.19,"b":"37 GHz"},{"t":2005.21,"f":4.19,"b":"37 GHz"},{"t":2005.23,"f":3.9,"b":"37 GHz"},{"t":2005.24,"f":3.83,"b":"37 GHz"},{"t":2005.29,"f":3.83,"b":"37 GHz"},{"t":2005.34,"f":3.61,"b":"37 GHz"},{"t":2005.35,"f":3.9,"b":"37 GHz"},{"t":2005.41,"f":3.4,"b":"37 GHz"},{"t":2005.43,"f":3.19,"b":"37 GHz"},{"t":2005.71,"f":4.69,"b":"37 GHz"},{"t":2006.08,"f":6.19,"b":"37 GHz","e":0.3},{"t":2006.18,"f":5.97,"b":"37 GHz","e":0.3},{"t":2006.2,"f":5.83,"b":"37 GHz"},{"t":2006.35,"f":5.4,"b":"37 GHz"},{"t":2006.35,"f":4.9,"b":"37 GHz"},{"t":2006.36,"f":4.76,"b":"37 GHz"},{"t":2006.45,"f":4.54,"b":"37 GHz"},{"t":2006.47,"f":4.47,"b":"37 GHz"},{"t":2006.53,"f":4.43,"b":"37 GHz"},{"t":2006.58,"f":4.54,"b":"37 GHz"},{"t":2006.72,"f":4.33,"b":"37 GHz"},{"t":2006.79,"f":3.97,"b":"37 GHz"},{"t":2006.89,"f":4.97,"b":"37 GHz"},{"t":2006.98,"f":4.83,"b":"37 GHz"},{"t":2007.03,"f":4.83,"b":"37 GHz"},{"t":2007.06,"f":4.76,"b":"37 GHz"},{"t":2007.11,"f":3.83,"b":"37 GHz"},{"t":2007.18,"f":3.69,"b":"37 GHz"},{"t":2007.22,"f":3.97,"b":"37 GHz"},{"t":2007.26,"f":4.4,"b":"37 GHz"},{"t":2007.29,"f":4.54,"b":"37 GHz"},{"t":2007.42,"f":5.9,"b":"37 GHz"},{"t":2007.43,"f":6.33,"b":"37 GHz"},{"t":2007.53,"f":8.47,"b":"37 GHz","e":0.5},{"t":2007.56,"f":8.04,"b":"37 GHz","e":0.5},{"t":2007.62,"f":8.97,"b":"37 GHz"},{"t":2007.64,"f":10.11,"b":"37 GHz","e":0.6},{"t":2007.65,"f":9.76,"b":"37 GHz"},{"t":2007.67,"f":11.04,"b":"37 GHz","e":0.6},{"t":2007.68,"f":11.4,"b":"37 GHz"},{"t":2007.7,"f":11.69,"b":"37 GHz"},{"t":2007.71,"f":11.97,"b":"37 GHz","e":0.8},{"t":2007.73,"f":11.5,"b":"37 GHz","e":0.7},{"t":2007.75,"f":11.83,"b":"37 GHz"},{"t":2007.76,"f":12.11,"b":"37 GHz","e":0.8},{"t":2007.78,"f":11.7,"b":"37 GHz","e":0.8},{"t":2007.79,"f":12.33,"b":"37 GHz","e":0.7},{"t":2007.81,"f":11.97,"b":"37 GHz"},{"t":2007.82,"f":12.26,"b":"37 GHz","e":0.8},{"t":2007.84,"f":11.6,"b":"37 GHz","e":0.7},{"t":2007.85,"f":11.83,"b":"37 GHz"},{"t":2007.87,"f":12.4,"b":"37 GHz","e":0.8},{"t":2007.9,"f":12.61,"b":"37 GHz","e":0.8},{"t":2007.92,"f":12.19,"b":"37 GHz"},{"t":2007.95,"f":11.4,"b":"37 GHz","e":0.6},{"t":2007.98,"f":10.76,"b":"37 GHz","e":0.5},{"t":2007.99,"f":10.54,"b":"37 GHz"},{"t":2008.03,"f":9.83,"b":"37 GHz","e":0.5},{"t":2008.07,"f":10.54,"b":"37 GHz","e":0.6},{"t":2008.09,"f":9.11,"b":"37 GHz"},{"t":2008.1,"f":8.4,"b":"37 GHz"},{"t":2008.13,"f":8.11,"b":"37 GHz"},{"t":2008.17,"f":7.9,"b":"37 GHz"},{"t":2008.18,"f":7.54,"b":"37 GHz"},{"t":2008.2,"f":7.11,"b":"37 GHz","e":0.4},{"t":2008.21,"f":6.69,"b":"37 GHz"},{"t":2008.26,"f":6.54,"b":"37 GHz"},{"t":2008.29,"f":6.26,"b":"37 GHz"},{"t":2008.31,"f":6.54,"b":"37 GHz"},{"t":2008.45,"f":5.47,"b":"37 GHz"},{"t":2008.48,"f":5.11,"b":"37 GHz"},{"t":2008.52,"f":5.04,"b":"37 GHz"},{"t":2008.55,"f":5.19,"b":"37 GHz"},{"t":2008.62,"f":4.54,"b":"37 GHz"},{"t":2008.65,"f":4.26,"b":"37 GHz"},{"t":2008.68,"f":3.97,"b":"37 GHz"},{"t":2008.69,"f":3.76,"b":"37 GHz"},{"t":2008.79,"f":5.54,"b":"37 GHz"},{"t":2008.92,"f":7.11,"b":"37 GHz","e":0.4},{"t":2008.92,"f":6.71,"b":"37 GHz"},{"t":2008.99,"f":6.04,"b":"37 GHz","e":0.3},
{"t":2004.04,"f":1.29,"b":"230 GHz"},{"t":2004.07,"f":1.69,"b":"230 GHz","e":0.3},{"t":2004.71,"f":2.04,"b":"230 GHz"},{"t":2004.96,"f":2.47,"b":"230 GHz"},{"t":2005.06,"f":2.33,"b":"230 GHz"},{"t":2005.1,"f":2.33,"b":"230 GHz"},{"t":2005.13,"f":2.33,"b":"230 GHz","e":0.25},{"t":2005.03,"f":3.83,"b":"230 GHz"},{"t":2005.11,"f":4.8,"b":"230 GHz","e":0.2},{"t":2005.56,"f":2.9,"b":"230 GHz"},{"t":2005.65,"f":4.29,"b":"230 GHz"},{"t":2005.68,"f":5.69,"b":"230 GHz","e":0.6},{"t":2005.69,"f":5.9,"b":"230 GHz","e":0.4},{"t":2005.69,"f":5.4,"b":"230 GHz"},{"t":2005.71,"f":5.26,"b":"230 GHz"},{"t":2005.72,"f":5.9,"b":"230 GHz"},{"t":2005.79,"f":6.54,"b":"230 GHz","e":0.3},{"t":2005.79,"f":5.86,"b":"230 GHz","e":0.2},{"t":2005.85,"f":5.11,"b":"230 GHz","e":0.25},{"t":2005.94,"f":4.04,"b":"230 GHz"},{"t":2005.96,"f":4.11,"b":"230 GHz"},{"t":2005.98,"f":4.61,"b":"230 GHz"},{"t":2005.99,"f":4.69,"b":"230 GHz"},{"t":2006.0,"f":4.6,"b":"230 GHz"},{"t":2006.01,"f":4.7,"b":"230 GHz"},{"t":2006.01,"f":4.94,"b":"230 GHz"},{"t":2006.02,"f":4.65,"b":"230 GHz"},{"t":2006.02,"f":4.97,"b":"230 GHz"},{"t":2006.03,"f":4.75,"b":"230 GHz"},{"t":2006.08,"f":3.37,"b":"230 GHz"},{"t":2006.11,"f":3.33,"b":"230 GHz","e":0.25},{"t":2006.14,"f":3.33,"b":"230 GHz"},{"t":2006.19,"f":3.37,"b":"230 GHz"},{"t":2006.55,"f":1.9,"b":"230 GHz"},{"t":2006.57,"f":2.11,"b":"230 GHz"},{"t":2006.62,"f":2.26,"b":"230 GHz"},{"t":2006.71,"f":1.76,"b":"230 GHz"},{"t":2006.75,"f":2.4,"b":"230 GHz"},{"t":2006.77,"f":6.83,"b":"230 GHz","e":0.2},{"t":2006.78,"f":5.11,"b":"230 GHz"},{"t":2006.77,"f":4.69,"b":"230 GHz"},{"t":2006.79,"f":3.54,"b":"230 GHz"},{"t":2006.87,"f":3.33,"b":"230 GHz"},{"t":2006.89,"f":2.83,"b":"230 GHz"},{"t":2006.92,"f":2.47,"b":"230 GHz"},{"t":2006.93,"f":2.83,"b":"230 GHz"},{"t":2006.94,"f":2.75,"b":"230 GHz"},{"t":2006.95,"f":2.69,"b":"230 GHz"},{"t":2006.96,"f":2.8,"b":"230 GHz"},{"t":2006.97,"f":2.65,"b":"230 GHz"},{"t":2006.98,"f":2.76,"b":"230 GHz"},{"t":2007.04,"f":2.83,"b":"230 GHz"},{"t":2007.06,"f":3.19,"b":"230 GHz"},{"t":2007.06,"f":4.11,"b":"230 GHz"},{"t":2007.09,"f":4.04,"b":"230 GHz"},{"t":2007.13,"f":6.94,"b":"230 GHz","e":0.8},{"t":2007.16,"f":5.59,"b":"230 GHz","e":0.3},{"t":2007.25,"f":5.23,"b":"230 GHz"},{"t":2007.27,"f":5.19,"b":"230 GHz"},{"t":2007.5,"f":8.04,"b":"230 GHz","e":0.6},{"t":2007.53,"f":6.29,"b":"230 GHz","e":0.3},{"t":2007.56,"f":8.04,"b":"230 GHz"},{"t":2007.59,"f":11.33,"b":"230 GHz","e":0.6},{"t":2007.58,"f":10.51,"b":"230 GHz"},{"t":2007.6,"f":9.83,"b":"230 GHz","e":1.2},{"t":2007.57,"f":9.69,"b":"230 GHz"},{"t":2007.61,"f":9.54,"b":"230 GHz"},{"t":2007.63,"f":9.9,"b":"230 GHz"},{"t":2007.68,"f":8.71,"b":"230 GHz","e":0.5},{"t":2007.67,"f":7.97,"b":"230 GHz"},{"t":2007.68,"f":7.61,"b":"230 GHz"},{"t":2007.7,"f":7.83,"b":"230 GHz"},{"t":2007.71,"f":8.11,"b":"230 GHz"},{"t":2007.72,"f":7.9,"b":"230 GHz"},{"t":2007.73,"f":7.54,"b":"230 GHz"},{"t":2007.75,"f":7.4,"b":"230 GHz"},{"t":2007.76,"f":7.54,"b":"230 GHz"},{"t":2007.85,"f":8.04,"b":"230 GHz","e":0.3},{"t":2007.87,"f":7.61,"b":"230 GHz"},{"t":2007.89,"f":7.26,"b":"230 GHz"},{"t":2007.9,"f":6.97,"b":"230 GHz"},{"t":2007.91,"f":6.69,"b":"230 GHz","e":0.5},{"t":2007.93,"f":6.61,"b":"230 GHz"},{"t":2007.94,"f":5.47,"b":"230 GHz"},{"t":2007.97,"f":4.5,"b":"230 GHz"},{"t":2007.98,"f":4.43,"b":"230 GHz"},{"t":2007.985,"f":4.55,"b":"230 GHz"},{"t":2007.99,"f":4.47,"b":"230 GHz"},{"t":2008.02,"f":3.9,"b":"230 GHz"},{"t":2008.07,"f":4.11,"b":"230 GHz"},{"t":2008.1,"f":3.69,"b":"230 GHz"},{"t":2008.13,"f":3.97,"b":"230 GHz"},{"t":2008.24,"f":2.36,"b":"230 GHz"},{"t":2008.5,"f":1.86,"b":"230 GHz"},{"t":2008.57,"f":1.61,"b":"230 GHz"},{"t":2008.6,"f":1.57,"b":"230 GHz"},{"t":2008.63,"f":1.61,"b":"230 GHz"},{"t":2008.68,"f":2.26,"b":"230 GHz"},{"t":2008.69,"f":2.61,"b":"230 GHz"},{"t":2008.71,"f":2.69,"b":"230 GHz"},{"t":2008.74,"f":3.04,"b":"230 GHz"},{"t":2008.76,"f":3.0,"b":"230 GHz"},{"t":2008.77,"f":3.83,"b":"230 GHz","e":0.6},{"t":2008.79,"f":4.83,"b":"230 GHz"},{"t":2008.81,"f":5.97,"b":"230 GHz","e":0.4},{"t":2008.81,"f":4.97,"b":"230 GHz"},{"t":2008.82,"f":4.26,"b":"230 GHz"},{"t":2008.84,"f":3.83,"b":"230 GHz"},{"t":2008.85,"f":3.69,"b":"230 GHz"},{"t":2008.86,"f":3.9,"b":"230 GHz"},{"t":2008.87,"f":3.54,"b":"230 GHz"},{"t":2008.88,"f":2.97,"b":"230 GHz"},{"t":2008.9,"f":2.97,"b":"230 GHz"},{"t":2008.91,"f":2.9,"b":"230 GHz"},{"t":2008.93,"f":2.69,"b":"230 GHz"},{"t":2008.96,"f":2.54,"b":"230 GHz"},{"t":2008.96,"f":1.9,"b":"230 GHz"},{"t":2008.99,"f":1.9,"b":"230 GHz"},{"t":2009.02,"f":2.61,"b":"230 GHz"},{"t":2009.05,"f":2.54,"b":"230 GHz"},{"t":2009.07,"f":2.54,"b":"230 GHz"},{"t":2009.1,"f":2.4,"b":"230 GHz"},{"t":2009.16,"f":2.54,"b":"230 GHz"},{"t":2009.19,"f":2.97,"b":"230 GHz"},{"t":2009.5,"f":1.94,"b":"230 GHz"},{"t":2009.51,"f":1.88,"b":"230 GHz"},{"t":2009.52,"f":1.83,"b":"230 GHz"},{"t":2009.55,"f":1.76,"b":"230 GHz"},{"t":2009.58,"f":1.33,"b":"230 GHz"},{"t":2009.63,"f":1.42,"b":"230 GHz"},{"t":2009.64,"f":1.47,"b":"230 GHz"},{"t":2009.66,"f":1.4,"b":"230 GHz"},{"t":2009.68,"f":1.47,"b":"230 GHz"},{"t":2009.71,"f":1.47,"b":"230 GHz"},{"t":2009.75,"f":1.26,"b":"230 GHz"},{"t":2009.8,"f":1.33,"b":"230 GHz"},{"t":2009.85,"f":1.47,"b":"230 GHz"},{"t":2009.88,"f":1.69,"b":"230 GHz"},{"t":2009.9,"f":1.75,"b":"230 GHz"},{"t":2009.91,"f":1.86,"b":"230 GHz"},{"t":2009.94,"f":1.71,"b":"230 GHz"},{"t":2009.97,"f":1.61,"b":"230 GHz"},{"t":2010.03,"f":1.33,"b":"230 GHz"},{"t":2010.13,"f":1.71,"b":"230 GHz"},{"t":2010.17,"f":1.69,"b":"230 GHz"},{"t":2010.22,"f":1.71,"b":"230 GHz"},{"t":2010.27,"f":1.43,"b":"230 GHz"},{"t":2010.32,"f":2.04,"b":"230 GHz"}
]
},
"vconcat": [
{
 "width": 719, "height": 374,
 "layer": [
  {"data": {"name": "arrows"}, "mark": {"type": "rule", "color": "black", "strokeWidth": 1.4},
   "encoding": {
    "x": {"field": "t", "type": "quantitative", "scale": {"domain": [2003.98, 2010.7], "nice": false, "zero": false}, "axis": {"orient": "top", "values": [2005, 2006, 2007, 2008, 2009, 2010], "labels": false, "title": null}},
    "y": {"datum": 0.974, "type": "quantitative", "scale": {"domain": [0.974, 9.03], "nice": false, "zero": false}, "axis": {"orient": "right", "values": [2, 3, 4, 5, 6, 7, 8], "labels": false, "title": null}},
    "y2": {"datum": 1.98}}},
  {"data": {"name": "arrows"}, "mark": {"type": "point", "shape": "M0,-1L0.55,1L0,0.45L-0.55,1Z", "filled": true, "color": "black", "size": 256, "opacity": 1},
   "encoding": {"x": {"field": "t", "type": "quantitative", "axis": null}, "y": {"datum": 1.886, "type": "quantitative", "axis": null}}},
  {"data": {"name": "arrows"}, "mark": {"type": "point", "shape": "M-1,0L1,0", "filled": false, "stroke": "black", "strokeWidth": 1.4, "size": 225, "opacity": 1},
   "encoding": {"x": {"field": "t", "type": "quantitative", "axis": null}, "y": {"datum": 1.51, "type": "quantitative", "axis": null}}},
  {"data": {"name": "xray"}, "mark": {"type": "point", "shape": "circle", "filled": true, "color": "#0a0ae0", "size": 46, "opacity": 1},
   "encoding": {
    "x": {"field": "t", "type": "quantitative", "scale": {"domain": [2003.98, 2010.7], "nice": false, "zero": false}, "axis": {"orient": "bottom", "values": [2005, 2006, 2007, 2008, 2009, 2010], "labels": false, "title": null}},
    "y": {"field": "f", "type": "quantitative", "scale": {"domain": [0.974, 9.03], "nice": false, "zero": false}, "axis": {"orient": "left", "values": [2, 3, 4, 5, 6, 7, 8], "format": "d", "labelFont": "Liberation Serif", "titleFont": "Liberation Serif", "title": "Flux (10⁻¹¹ erg cm⁻² s⁻¹)", "titleFontSize": 32, "titleX": -53, "titleY": 187, "titleAngle": 270, "titleBaseline": "alphabetic", "titleAlign": "center"}}}},
  {"data": {"values": [{"label": "X-ray (2.4-10 keV)"}]}, "mark": {"type": "text", "align": "left", "baseline": "alphabetic", "font": "Liberation Serif", "fontSize": 30, "color": "black"},
   "encoding": {"x": {"datum": 2004.195, "type": "quantitative", "axis": null}, "y": {"datum": 7.78, "type": "quantitative", "axis": null}, "text": {"field": "label"}}}
 ],
 "resolve": {"axis": {"x": "independent", "y": "independent"}}
},
{
 "width": 719, "height": 348,
 "layer": [
  {"data": {"name": "opt"}, "mark": {"type": "errorbar", "color": "#1a1a8c", "thickness": 1.2},
   "encoding": {
    "x": {"field": "t", "type": "quantitative", "scale": {"domain": [2003.98, 2010.7], "nice": false, "zero": false}, "axis": {"orient": "top", "values": [2005, 2006, 2007, 2008, 2009, 2010], "labels": false, "title": null}},
    "y": {"field": "f", "type": "quantitative", "scale": {"domain": [0.2492, 0.6507], "nice": false, "zero": false}, "axis": {"orient": "right", "values": [0.3, 0.4, 0.5, 0.6], "labels": false, "title": null}},
    "yError": {"field": "e"}}},
  {"data": {"name": "opt"}, "mark": {"type": "point", "shape": "circle", "filled": true, "color": "#0a0ae0", "size": 36, "opacity": 1},
   "encoding": {
    "x": {"field": "t", "type": "quantitative", "scale": {"domain": [2003.98, 2010.7], "nice": false, "zero": false}, "axis": {"orient": "bottom", "values": [2005, 2006, 2007, 2008, 2009, 2010], "labels": false, "title": null}},
    "y": {"field": "f", "type": "quantitative", "scale": {"domain": [0.2492, 0.6507], "nice": false, "zero": false}, "axis": {"orient": "left", "values": [0.3, 0.4, 0.5, 0.6], "format": ".1f", "labelFont": "Liberation Serif", "titleFont": "Liberation Serif", "title": "Flux Density (mJy)", "titleX": -84, "titleY": 174, "titleAngle": 270, "titleBaseline": "alphabetic", "titleAlign": "center"}}}},
  {"data": {"values": [{"label": "Optical (R Band)"}]}, "mark": {"type": "text", "align": "left", "baseline": "alphabetic", "font": "Liberation Serif", "fontSize": 30, "color": "black"},
   "encoding": {"x": {"datum": 2004.195, "type": "quantitative", "axis": null}, "y": {"datum": 0.5873, "type": "quantitative", "axis": null}, "text": {"field": "label"}}}
 ],
 "resolve": {"axis": {"x": "independent", "y": "independent"}}
},
{
 "width": 719, "height": 327,
 "layer": [
  {"data": {"name": "radio"}, "transform": [{"filter": "datum.e > 0 && datum.b === '37 GHz'"}], "mark": {"type": "errorbar", "thickness": 1.2, "color": "#2ee02e"},
   "encoding": {
    "x": {"field": "t", "type": "quantitative", "scale": {"domain": [2003.98, 2010.7], "nice": false, "zero": false}, "axis": {"orient": "top", "values": [2005, 2006, 2007, 2008, 2009, 2010], "labels": false, "title": null}},
    "y": {"field": "f", "type": "quantitative", "scale": {"domain": [-0.03, 13.99], "nice": false, "zero": false}, "axis": {"orient": "right", "values": [1, 3, 5, 7, 9, 11, 13], "labels": false, "title": null}},
    "yError": {"field": "e"}}},
  {"data": {"name": "radio"}, "transform": [{"filter": "datum.e > 0 && datum.b === '230 GHz'"}], "mark": {"type": "errorbar", "thickness": 1.2, "color": "#2424a0"},
   "encoding": {
    "x": {"field": "t", "type": "quantitative", "axis": null},
    "y": {"field": "f", "type": "quantitative", "axis": null},
    "yError": {"field": "e"}}},
  {"data": {"name": "radio"}, "mark": {"type": "point", "filled": false, "opacity": 1, "strokeWidth": 1.1, "size": 62},
   "encoding": {
    "x": {"field": "t", "type": "quantitative", "scale": {"domain": [2003.98, 2010.7], "nice": false, "zero": false}, "axis": {"orient": "bottom", "values": [2005, 2006, 2007, 2008, 2009, 2010], "format": "d", "labelFont": "Liberation Serif", "titleFont": "Liberation Serif", "labelBaseline": "alphabetic", "labelPadding": 43, "title": "Year", "titleFontSize": 33, "titleX": 359.5, "titleY": 66, "titleBaseline": "alphabetic", "titleAlign": "center"}},
    "y": {"field": "f", "type": "quantitative", "scale": {"domain": [-0.03, 13.99], "nice": false, "zero": false}, "axis": {"orient": "left", "values": [1, 3, 5, 7, 9, 11, 13], "format": "d", "labelFont": "Liberation Serif", "titleFont": "Liberation Serif", "title": "Flux Density (Jy)", "titleX": -74, "titleY": 163.5, "titleAngle": 270, "titleBaseline": "alphabetic", "titleAlign": "center"}},
    "shape": {"field": "b", "type": "nominal", "scale": {"domain": ["14.5 GHz", "37 GHz", "230 GHz"], "range": ["triangle-up", "circle", "square"]}, "legend": {"orient": "none", "legendX": 177, "legendY": 6, "title": null, "labelFont": "Liberation Serif", "labelFontSize": 26, "labelColor": "black", "labelAlign": "right", "labelOffset": -54, "rowPadding": -2, "symbolSize": 60, "symbolStrokeWidth": 1.2}},
    "stroke": {"field": "b", "type": "nominal", "scale": {"domain": ["14.5 GHz", "37 GHz", "230 GHz"], "range": ["#e51515", "#2ee02e", "#2424a0"]}, "legend": {"orient": "none", "legendX": 177, "legendY": 6, "title": null, "labelFont": "Liberation Serif", "labelFontSize": 26, "labelColor": "black", "labelAlign": "right", "labelOffset": -54, "rowPadding": -2, "symbolSize": 60, "symbolStrokeWidth": 1.2}}}},
  {"data": {"name": "radio"}, "transform": [{"filter": "datum.b === '37 GHz'"}], "mark": {"type": "point", "shape": "circle", "filled": true, "color": "#2ee02e", "size": 60, "opacity": 1},
   "encoding": {"x": {"field": "t", "type": "quantitative", "axis": null}, "y": {"field": "f", "type": "quantitative", "axis": null}}}
 ],
 "resolve": {"axis": {"x": "independent", "y": "independent"}}
}
]
}
